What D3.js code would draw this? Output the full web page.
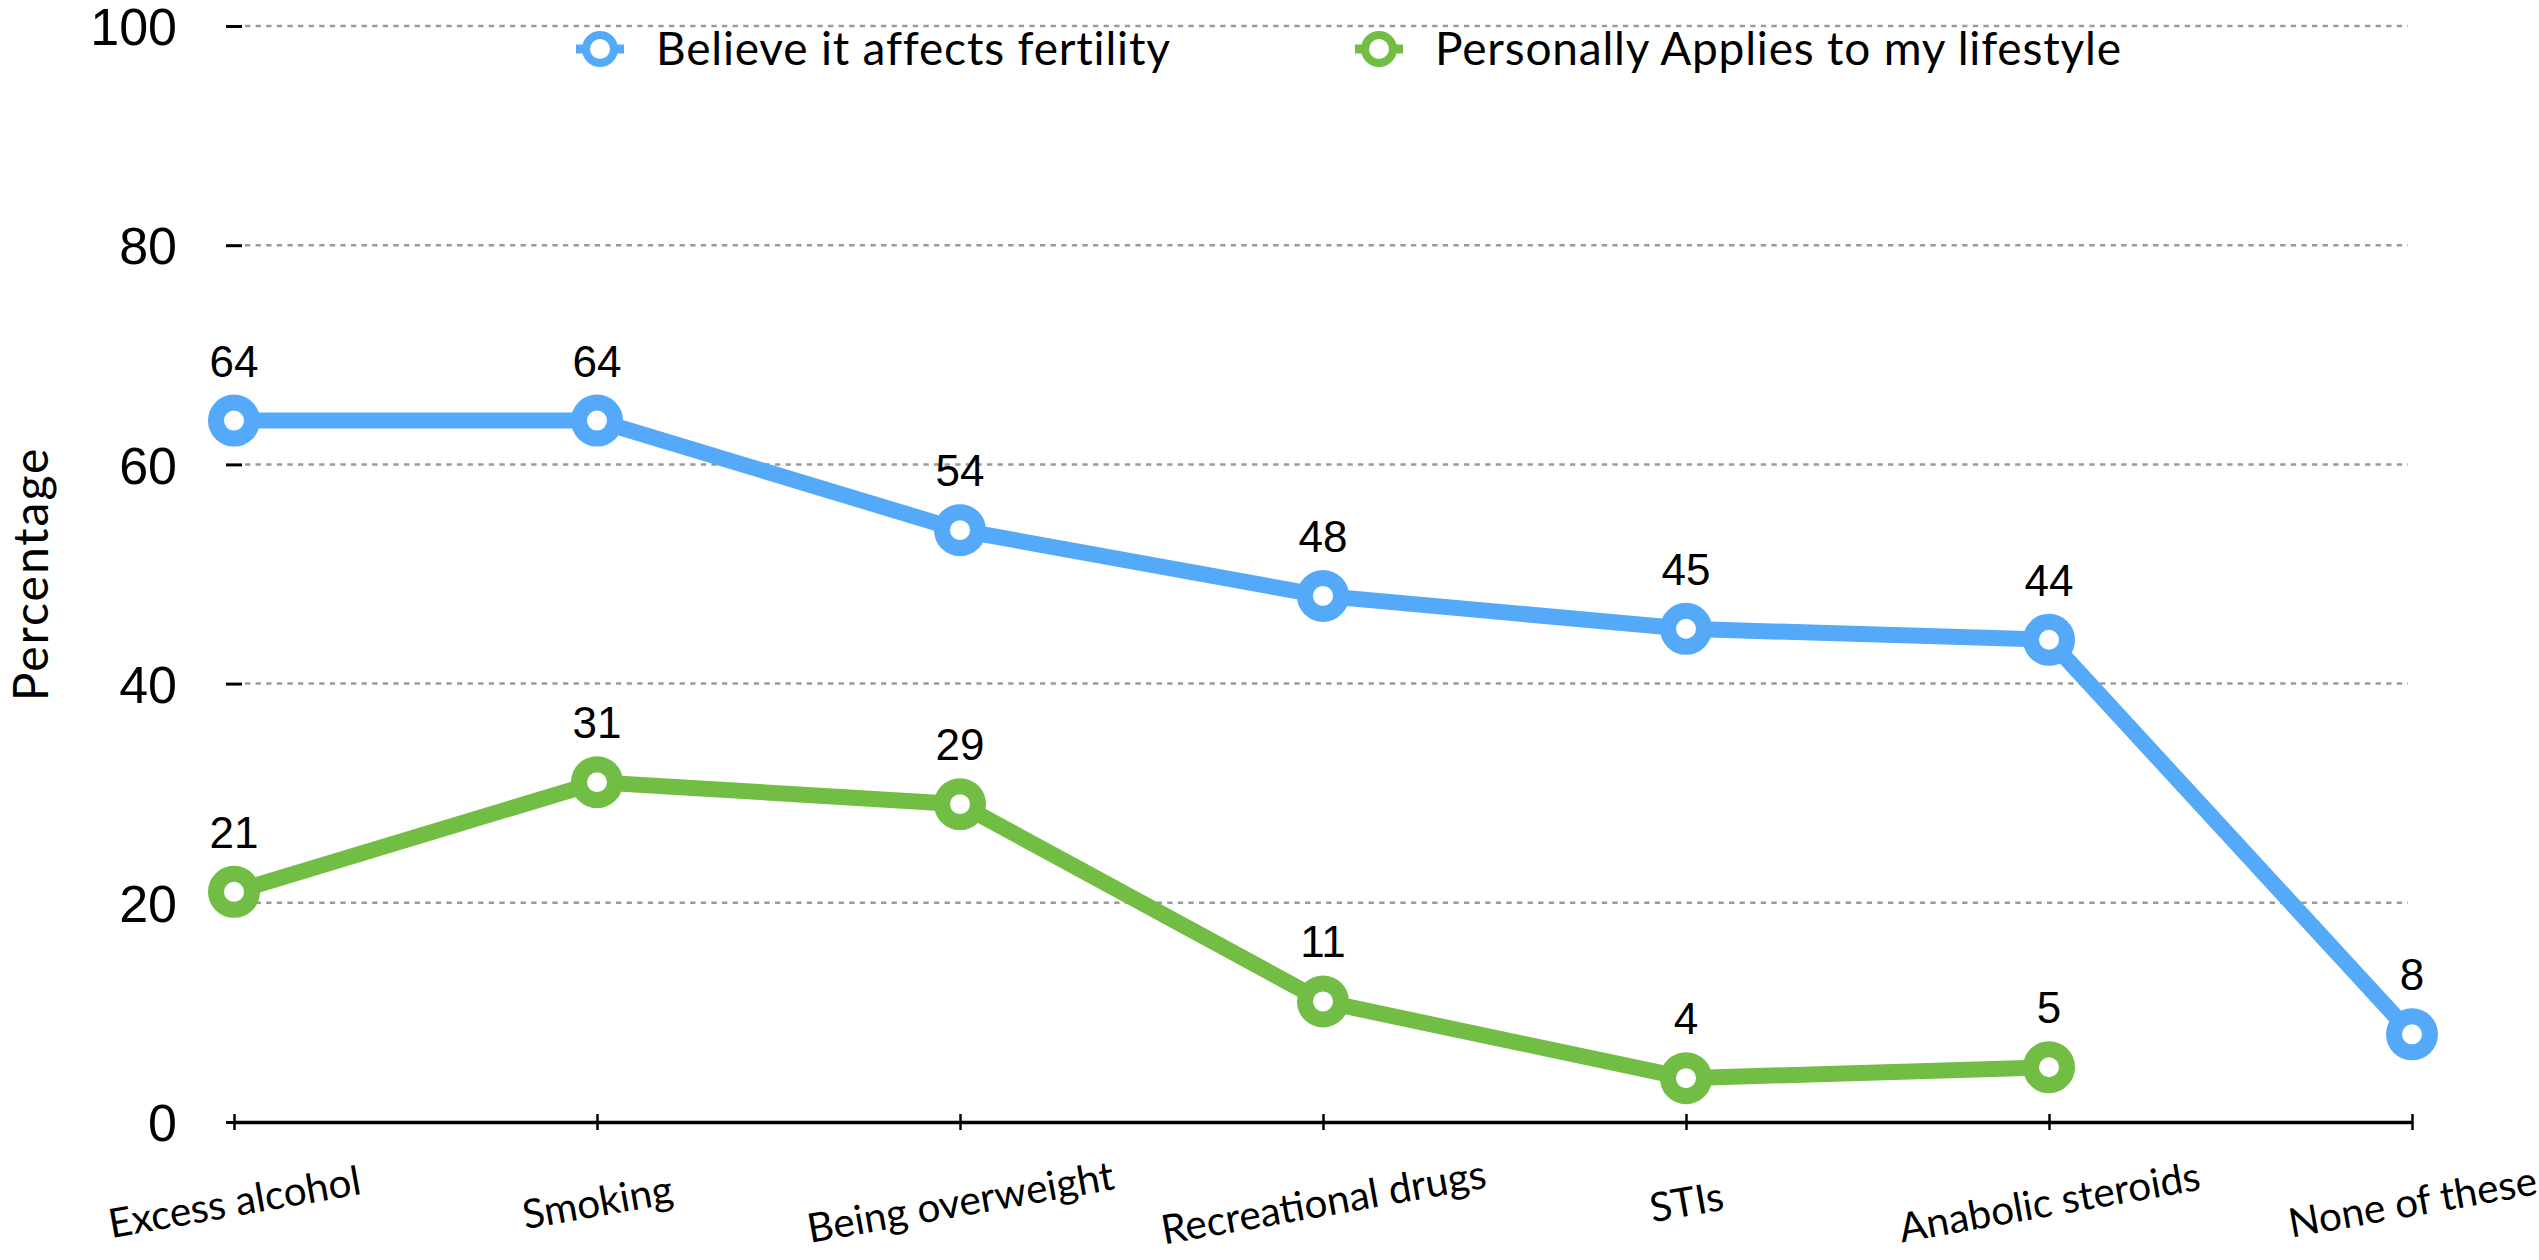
<!DOCTYPE html>
<html>
<head>
<meta charset="utf-8">
<script src="https://cdn.jsdelivr.net/npm/d3@7"></script>
<style>
  body { margin: 0; background: #fff; }
  .num { font-family: "Liberation Sans", Arial, sans-serif; }
  .txt { font-family: Lato, "Open Sans", sans-serif; }
</style>
</head>
<body>
<svg id="chart" width="2539" height="1260"></svg>
<script>
// chart data
const categories = ["Excess alcohol", "Smoking", "Being overweight", "Recreational drugs", "STIs", "Anabolic steroids", "None of these"];
const believeValues = [64, 64, 54, 48, 45, 44, 8];
const appliesValues = [21, 31, 29, 11, 4, 5, null];
const seriesNames = ["Believe it affects fertility", "Personally Applies to my lifestyle"];
const yTickValues = [0, 20, 40, 60, 80, 100];

const blue = "#54a9f8";
const green = "#72bd44";

const svg = d3.select("#chart");

const x = d3.scalePoint()
    .domain(categories)
    .range([234, 2412]);

const y = d3.scaleLinear()
    .domain([0, 100])
    .range([1122, 26]);

// gridlines
svg.append("g")
    .selectAll("line")
    .data(yTickValues.filter(d => d > 0))
    .enter()
    .append("line")
    .attr("x1", 245)
    .attr("x2", 2408)
    .attr("y1", d => y(d))
    .attr("y2", d => y(d))
    .attr("stroke", "#9a9a9a")
    .attr("stroke-width", 2.5)
    .attr("stroke-dasharray", "5.3,5.3");

// x axis
const xAxis = svg.append("g")
    .attr("transform", `translate(0, ${y(0)})`)
    .call(d3.axisBottom(x).tickSizeOuter(0).tickSizeInner(8).tickFormat(""));
xAxis.select(".domain").attr("stroke", "#000").attr("stroke-width", 3.5);
xAxis.selectAll(".tick line").attr("y1", -8).attr("y2", 8).attr("stroke", "#000").attr("stroke-width", 2.5);

xAxis.selectAll(".tick")
    .append("text")
    .attr("class", "txt")
    .attr("transform", "translate(0, 80) rotate(-10)")
    .attr("text-anchor", "middle")
    .attr("dy", "0.35em")
    .attr("fill", "#000")
    .attr("font-size", 40.5)
    .text(d => d);

// y axis
const yAxis = svg.append("g")
    .attr("transform", "translate(234, 0)")
    .call(d3.axisLeft(y).tickValues(yTickValues).tickSize(8).tickPadding(49));
yAxis.select(".domain").remove();
yAxis.selectAll(".tick line").attr("x1", -8).attr("x2", 8).attr("stroke", "#000").attr("stroke-width", 3);
yAxis.selectAll(".tick text")
    .attr("class", "num")
    .attr("font-size", 52)
    .attr("dy", "0.36em")
    .attr("fill", "#000");

svg.append("text")
    .attr("class", "txt")
    .attr("transform", `translate(48, ${(y(0) + y(100)) / 2}) rotate(-90)`)
    .attr("text-anchor", "middle")
    .attr("font-size", 48)
    .attr("letter-spacing", 2)
    .text("Percentage");

// series
const series = [
    {name: seriesNames[0], values: believeValues, color: blue},
    {name: seriesNames[1], values: appliesValues, color: green}
];

const line = d3.line()
    .defined(d => d.v != null)
    .x(d => x(d.c))
    .y(d => y(d.v));

series.forEach(s => {
    const pts = categories.map((c, i) => ({c: c, v: s.values[i]}));
    const g = svg.append("g");

    g.append("path")
        .datum(pts)
        .attr("fill", "none")
        .attr("stroke", s.color)
        .attr("stroke-width", 16)
        .attr("d", line);

    const valid = pts.filter(d => d.v != null);

    g.selectAll("circle")
        .data(valid)
        .enter()
        .append("circle")
        .attr("cx", d => x(d.c))
        .attr("cy", d => y(d.v))
        .attr("r", 18)
        .attr("fill", "#fff")
        .attr("stroke", s.color)
        .attr("stroke-width", 16);

    g.selectAll("text")
        .data(valid)
        .enter()
        .append("text")
        .attr("class", "num")
        .attr("x", d => x(d.c))
        .attr("y", d => y(d.v) - 44)
        .attr("text-anchor", "middle")
        .attr("font-size", 44)
        .text(d => d.v);
});

// legend
const legendX = [600, 1379];
const legend = svg.append("g")
    .selectAll("g")
    .data(series)
    .enter()
    .append("g")
    .attr("transform", (d, i) => `translate(${legendX[i]}, 49)`);

legend.append("line")
    .attr("x1", -24)
    .attr("x2", 24)
    .attr("stroke", d => d.color)
    .attr("stroke-width", 9);

legend.append("circle")
    .attr("r", 14)
    .attr("fill", "#fff")
    .attr("stroke", d => d.color)
    .attr("stroke-width", 8);

legend.append("text")
    .attr("class", "txt")
    .attr("x", 56)
    .attr("y", 16)
    .attr("font-size", 46)
    .attr("letter-spacing", 0.8)
    .text(d => d.name);
</script>
</body>
</html>
